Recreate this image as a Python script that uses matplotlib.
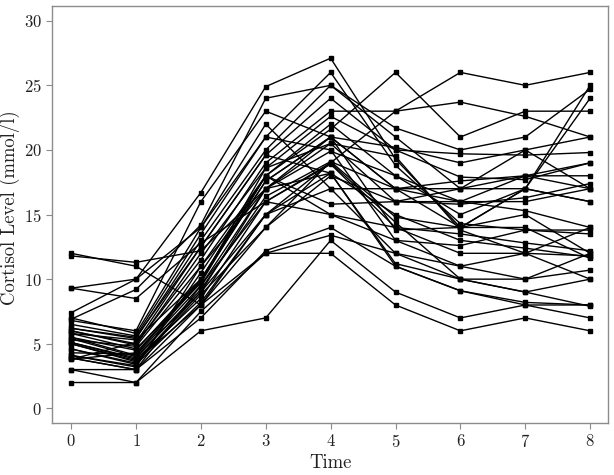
import numpy as np
import matplotlib
matplotlib.use("Agg")
import matplotlib.pyplot as plt

# cortisol level per subject at times 0..8
times = [0, 1, 2, 3, 4, 5, 6, 7, 8]
subjects = [
    [2.0, 2.0, 6.0, 7.0, 13.0, 9.0, 7.0, 8.0, 7.0],
    [3.0, 2.0, 7.5, 12.0, 12.0, 8.0, 6.0, 7.0, 6.0],
    [3.0, 3.0, 7.0, 12.2, 14.0, 11.0, 9.1, 8.2, 8.0],
    [12.0, 11.0, 8.0, 12.0, 13.4, 12.0, 11.0, 10.0, 12.0],
    [11.8, 11.3, 12.2, 17.0, 21.0, 17.0, 14.0, 17.0, 24.0],
    [9.3, 10.0, 14.0, 22.0, 17.0, 12.0, 10.0, 9.0, 7.9],
    [9.3, 8.5, 12.8, 16.0, 19.0, 14.4, 10.0, 9.0, 10.0],
    [7.4, 10.0, 16.7, 24.9, 27.1, 19.3, 14.0, 17.0, 25.0],
    [6.9, 9.2, 14.2, 24.0, 25.0, 21.7, 20.0, 21.0, 24.7],
    [6.8, 6.0, 16.0, 23.0, 21.0, 20.2, 19.0, 20.0, 17.0],
    [7.0, 5.8, 14.0, 21.0, 26.0, 18.8, 14.3, 13.8, 13.8],
    [6.2, 5.4, 13.0, 20.0, 25.0, 21.0, 17.0, 20.0, 21.0],
    [6.2, 5.5, 12.5, 19.6, 24.0, 20.0, 17.9, 17.7, 19.0],
    [6.0, 5.0, 11.5, 19.0, 23.0, 23.0, 23.7, 22.6, 21.0],
    [6.0, 4.9, 12.0, 18.6, 22.6, 20.0, 19.7, 19.6, 19.8],
    [5.8, 5.3, 10.0, 18.0, 22.0, 18.0, 16.0, 15.3, 14.0],
    [5.8, 4.6, 9.7, 18.0, 21.6, 26.0, 21.0, 23.0, 23.0],
    [5.5, 4.5, 10.0, 17.6, 21.0, 17.0, 16.0, 16.0, 17.0],
    [5.5, 4.1, 9.5, 17.0, 20.5, 16.0, 15.8, 16.3, 17.4],
    [5.4, 4.0, 9.0, 17.0, 19.9, 18.0, 15.0, 17.0, 16.0],
    [5.1, 3.9, 9.2, 16.4, 19.1, 17.0, 17.0, 18.0, 18.0],
    [5.1, 3.8, 8.5, 16.0, 18.9, 14.0, 13.5, 12.8, 12.2],
    [5.0, 3.7, 8.0, 15.0, 19.0, 23.0, 26.0, 25.0, 26.0],
    [5.0, 3.6, 9.0, 15.0, 18.2, 15.0, 13.0, 12.4, 11.7],
    [4.6, 3.5, 8.8, 14.0, 18.0, 16.0, 16.0, 18.0, 19.0],
    [4.6, 3.4, 8.2, 15.0, 17.0, 17.0, 17.6, 18.0, 17.0],
    [4.1, 3.3, 10.5, 18.0, 15.8, 16.0, 17.0, 17.0, 16.0],
    [4.1, 3.2, 11.0, 18.0, 15.0, 13.0, 12.6, 13.8, 13.5],
    [3.9, 3.0, 9.5, 16.0, 15.0, 14.0, 12.0, 12.0, 11.8],
    [3.9, 3.0, 8.0, 14.0, 19.1, 14.8, 14.0, 15.0, 12.0],
    [3.8, 4.3, 9.9, 17.6, 21.0, 13.8, 14.0, 14.0, 11.6],
    [3.8, 5.1, 12.5, 19.6, 18.2, 11.2, 10.0, 10.0, 10.7],
    [6.5, 5.6, 13.5, 21.0, 20.0, 13.0, 11.0, 12.0, 10.0],
    [5.3, 4.8, 11.0, 17.0, 18.2, 11.0, 9.1, 8.0, 8.0],
    [4.3, 4.2, 9.8, 18.6, 20.5, 19.5, 13.8, 12.0, 14.0],
]

plt.rcParams['font.family'] = ['cmr10', 'DejaVu Serif']
plt.rcParams['axes.formatter.use_mathtext'] = True

fig = plt.figure(figsize=(6.14, 4.75), dpi=100)
ax = fig.add_axes([52.3 / 614, 1 - 422.7 / 475, (608.3 - 52.3) / 614, (422.7 - 6) / 475])

for s in subjects:
    ax.plot(times, s, color='black', linewidth=1.0, marker='s', markersize=2.2)

ax.set_xlim(-0.29, 8.28)
ax.set_ylim(-1.11, 31.14)
ax.set_xticks(times)
ax.set_yticks([0, 5, 10, 15, 20, 25, 30])
for sp in ax.spines.values():
    sp.set_color('#8c8c8c')
    sp.set_linewidth(1.0)
ax.tick_params(colors='#8c8c8c', labelcolor='#222222', length=4, width=0.8,
               labelsize=12)
ax.set_xlabel('Time', fontsize=13.5, color='#222222')
ax.set_ylabel('Cortisol Level (mmol/l)', fontsize=13.5, color='#222222')
ax.yaxis.set_label_coords(-0.058, 0.515)
ax.xaxis.set_label_coords(0.5, -0.076)

plt.savefig('out.png', dpi=100)
plt.close()
